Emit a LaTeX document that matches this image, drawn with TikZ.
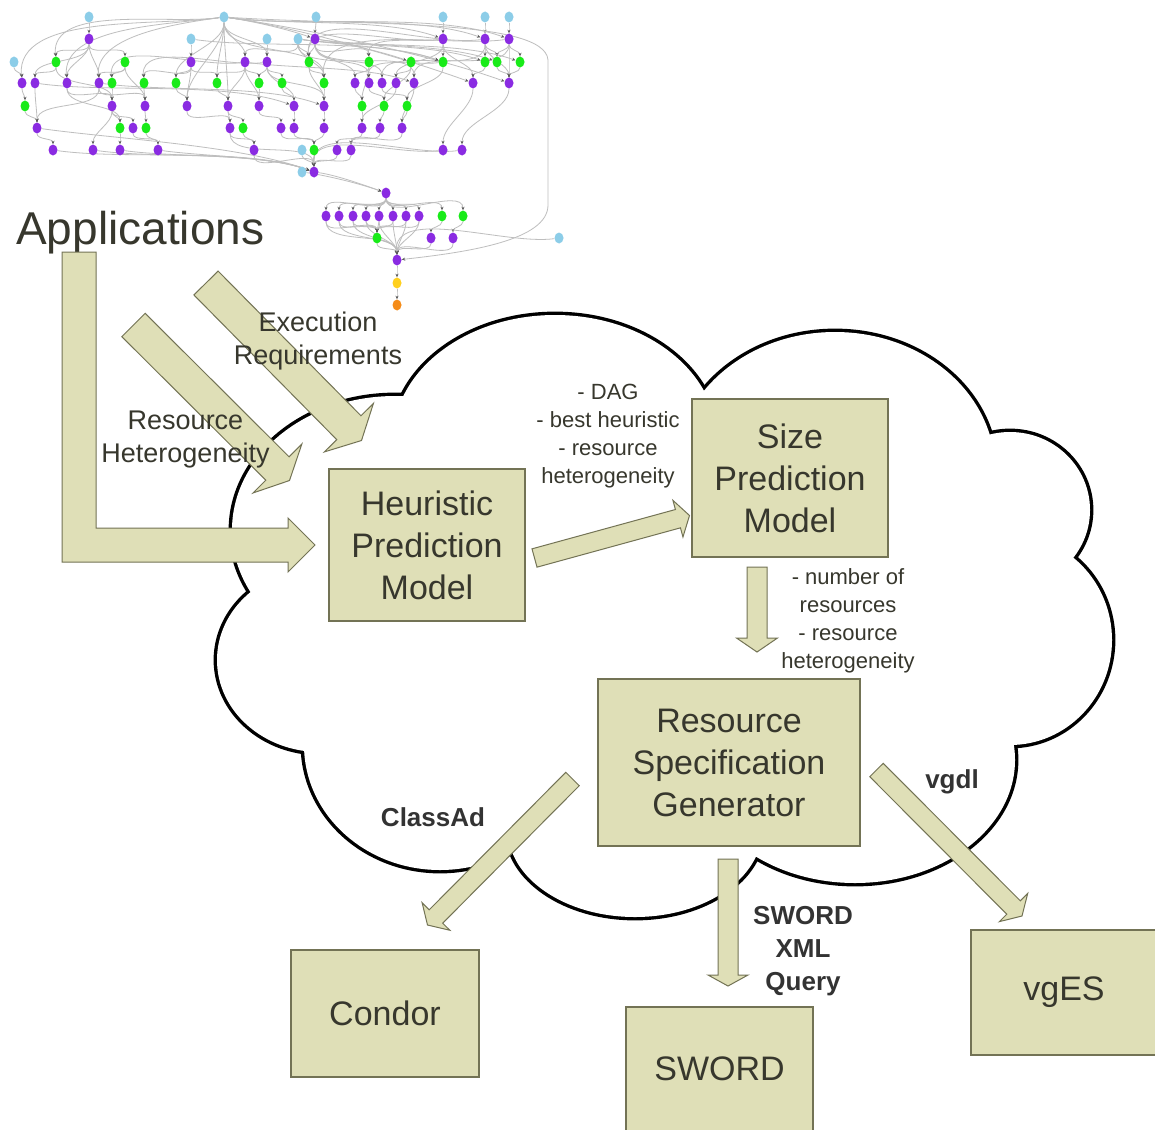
\documentclass[tikz,border=0pt]{standalone}
\usepackage{fontspec}
\setmainfont{Liberation Sans}
\usetikzlibrary{calc,shapes.geometric,arrows.meta}

\pgfdeclarelayer{paper}
\pgfdeclarelayer{dagwires}
\pgfsetlayers{paper,dagwires,main}

\definecolor{boxfill}{RGB}{223,223,183}
\definecolor{boxline}{RGB}{115,115,85}
\definecolor{inktext}{RGB}{55,55,45}
\definecolor{dagp}{RGB}{138,43,226}
\definecolor{dagg}{RGB}{25,235,25}
\definecolor{dagb}{RGB}{140,205,232}
\definecolor{dagy}{RGB}{255,208,30}
\definecolor{dago}{RGB}{245,140,25}
\definecolor{dagwirec}{RGB}{190,190,190}
\definecolor{dagtip}{RGB}{90,90,90}

% block arrow: tail centre, tip, half shaft width, half head width, head length
\newcommand{\blockarrow}[5]{%
  \coordinate (ba-base) at ($(#2)!#5!(#1)$);
  \filldraw[blockarr] ($(#1)!#3!90:(#2)$) -- ($(ba-base)!#3!90:(#2)$)
    -- ($(ba-base)!#4!90:(#2)$) -- (#2) -- ($(ba-base)!#4!-90:(#2)$)
    -- ($(ba-base)!#3!-90:(#2)$) -- ($(#1)!#3!-90:(#2)$) -- cycle;
}

\begin{document}
\begin{tikzpicture}[x=1pt,y=-1pt,
  dag/.style={ellipse, inner sep=0pt, minimum width=9pt, minimum height=11pt},
  dagwire/.style={draw=dagwirec, line width=0.8pt, -{Stealth[length=3.5pt,width=3pt,color=dagtip]}},
  cloudrim/.style={draw=black, line width=6.8pt},
  blockarr/.style={fill=boxfill, draw=boxline, line width=1pt, line join=miter},
  modelbox/.style={draw=boxline, line width=1.2pt, fill=boxfill, text=inktext, align=center,
                   inner sep=0pt, font=\fontsize{34}{42}\selectfont},
  smalllbl/.style={text=inktext, align=center, inner sep=0pt, font=\fontsize{22}{28}\selectfont},
  midlbl/.style={text=inktext, align=center, inner sep=0pt, font=\fontsize{27}{33}\selectfont},
  boldlbl/.style={text=black!80, align=center, inner sep=0pt, font=\fontsize{26}{33}\selectfont\bfseries}]

\begin{pgfonlayer}{paper}
  \fill[white] (0,0) rectangle (1155,1129);
\end{pgfonlayer}
\useasboundingbox (0,0) rectangle (1155,1129);
\clip (0,0) rectangle (1155,1129);

% ---------------- application DAG ----------------
\foreach \x/\y/\c [count=\i] in {
 89/17/b, 224/17/b, 316/17/b, 443/17/b, 485/17/b, 509/17/b,
 89/39/p, 191/39/b, 267/39/b, 298/39/b, 315/39/p, 443/39/p, 485/39/p, 509/39/p,
 14/62/b, 56/62/g, 125/62/g, 191/62/p, 245/62/p, 267/62/p, 309/62/g, 369/62/g, 411/62/g, 443/62/g, 485/62/g, 497/62/g, 520/62/g,
 22/83/p, 35/83/p, 67/83/p, 99/83/p, 112/83/g, 144/83/g, 176/83/g, 217/83/g, 259/83/g, 282/83/g, 324/83/g, 355/83/p, 369/83/p, 382/83/p, 396/83/p, 414/83/p, 473/83/p, 509/83/p,
 25/106/g, 112/106/p, 145/106/p, 187/106/p, 228/106/p, 259/106/p, 294/106/p, 324/106/p, 362/106/g, 384/106/g, 407/106/g,
 37/128/p, 120/128/g, 133/128/p, 146/128/g, 230/128/p, 243/128/g, 281/128/p, 294/128/p, 324/128/p, 362/128/p, 380/128/p, 402/128/p,
 53/150/p, 93/150/p, 120/150/p, 158/150/p, 254/150/p, 302/150/b, 314/150/g, 337/150/p, 351/150/p, 443/150/p, 462/150/p,
 302/172/b, 314/172/p,
 386/193/p,
 326/216/p, 339/216/p, 353/216/p, 366/216/p, 379/216/p, 393/216/p, 406/216/p, 419/216/p, 442/216/g, 463/216/g,
 377/238/g, 431/238/p, 453/238/p, 559/238/b,
 397/260/p, 397/283/y, 397/305/o}
  \node[dag, fill=dag\c] (d\i) at (\x,\y) {};

\begin{pgfonlayer}{dagwires}
  % mostly downward edges
  \foreach \a/\b in {1/7, 2/19, 2/20, 2/34, 2/35, 2/49, 2/50, 2/38,
    3/11, 4/12, 5/13, 6/14, 7/16, 7/17, 7/29, 7/30, 7/31,
    8/18, 9/20, 10/19, 10/21, 10/38, 10/40,
    11/21, 11/22, 11/39, 11/41, 11/43, 12/24, 12/42, 12/44,
    13/25, 13/26, 13/41, 13/45, 14/26, 14/27, 14/43, 14/45,
    15/28, 16/29, 16/47, 17/31, 17/32, 17/48,
    18/33, 18/34, 18/35, 18/49, 19/35, 19/36, 19/50, 19/51,
    20/36, 20/37, 20/52, 20/53, 21/38, 21/53, 22/39, 22/54, 23/42, 23/55,
    24/56, 25/44, 26/45, 27/45,
    28/46, 29/57, 30/47, 30/58, 31/48, 31/57, 32/47, 33/48, 34/49, 35/50, 36/51, 37/52, 38/53,
    39/54, 40/55, 41/56, 42/66, 43/68, 44/78, 45/79, 46/57,
    47/58, 47/59, 47/70, 48/60, 49/61, 50/61, 50/62, 51/63, 52/64, 53/65, 54/66, 55/67, 56/68,
    57/69, 58/71, 59/72, 60/72, 61/73, 62/73, 63/75, 64/75, 65/75, 66/76, 67/77, 68/77,
    61/81, 73/81, 74/81, 75/81, 76/81, 77/81,
    82/83, 82/84, 82/85, 82/86, 82/87, 82/88, 82/89, 82/90, 82/91, 82/92,
    83/93, 84/93, 85/93, 86/93, 87/93, 88/93, 89/93, 90/93, 91/94, 92/95,
    83/97, 84/97, 85/97, 86/97, 87/97, 88/97, 89/97, 90/97, 93/97, 94/97, 95/97,
    97/98, 98/99}
    \draw[dagwire] (d\a) to[out=-90,in=90,looseness=0.8] (d\b);
  % long edges running to the right
  \foreach \a/\b in {2/11, 2/12, 2/13, 2/14, 2/44, 2/45, 8/24, 10/24, 10/25, 10/27,
    11/23, 11/26, 19/43, 29/52, 31/53,
    57/81, 69/81, 70/81, 71/81, 72/81, 80/82, 81/82}
    \draw[dagwire] (d\a) to[out=-8,in=160,looseness=0.7] (d\b);
  % long edges sweeping to the left
  \foreach \a/\b in {2/16, 2/28, 2/30, 2/31, 12/21, 12/22, 13/21, 14/38,
    19/32, 20/33, 24/40, 78/81, 79/81, 96/97}
    \draw[dagwire] (d\a) to[out=188,in=95,looseness=0.8] (d\b);
  % the edge that runs round the right-hand side
  \draw[dagwire] (d2) .. controls (360,26) and (545,18) .. (548,60) -- (548,205)
    .. controls (548,240) and (470,252) .. (d97);
\end{pgfonlayer}

\node[anchor=base west, inner sep=0pt, text=inktext, font=\fontsize{46}{52}\selectfont]
  (apptitle) at (16,244) {Applications};

% ---------------- cloud: union of elliptic lobes ----------------
% each lobe is stroked with a double-width rim, then every lobe and the
% central polygon are filled white, leaving only the outer half of the rim
\def\cloudlobes{395/530/163/134, 555/440/162/125, 835/470/160/138,
  1010/510/80/78, 1010/640/102/105, 855/760/160/123, 635/830/127/87,
  440/745/136/125, 320/660/103/92}
\foreach \cx/\cy/\rx/\ry in \cloudlobes
  \draw[cloudrim] (\cx,\cy) ellipse [x radius=\rx pt, y radius=\ry pt];
\foreach \cx/\cy/\rx/\ry in \cloudlobes
  \fill[white] (\cx,\cy) ellipse [x radius=\rx pt, y radius=\ry pt];
\fill[white] (395,530) -- (555,440) -- (835,470) -- (1010,510) -- (1010,640)
  -- (855,760) -- (635,830) -- (440,745) -- (320,660) -- cycle;

% ---------------- boxes ----------------
\node[modelbox, minimum width=196pt, minimum height=152pt] (hpm) at (427,545) {Heuristic\\Prediction\\Model};
\node[modelbox, minimum width=196pt, minimum height=158pt] (spm) at (790,478) {Size\\Prediction\\Model};
\node[modelbox, minimum width=262pt, minimum height=167pt] (rsg) at (729,762.5) {Resource\\Specification\\Generator};
\node[modelbox, minimum width=188pt, minimum height=127pt] (condor) at (385,1013.5) {Condor};
\node[modelbox, minimum width=187pt, minimum height=124pt] (sword) at (719.5,1069) {SWORD};
\node[modelbox, minimum width=186pt, minimum height=125pt] (vges) at (1064,992.5) {vgES};

% ---------------- block arrows ----------------
\coordinate (la-start) at (79,252);
\coordinate (la-end) at (hpm.west -| 315,553);
\filldraw[blockarr] ($(la-start)+(-17,0)$) -- ($(la-start)+(17,0)$) |- ($(la-end)+(-27,-17)$)
  -- ($(la-end)+(-27,-27)$) -- (la-end) -- ($(la-end)+(-27,27)$) -- ($(la-end)+(-27,17)$)
  -- ($(la-start |- la-end)+(-17,17)$) -- cycle;

\coordinate (rh-tail) at (133.5,325);   \coordinate (rh-tip) at (289.5,480.5);
\coordinate (er-tail) at (206,283);     \coordinate (er-tip) at (361.5,440.5);
\coordinate (hs-tail) at (534.5,558);   \coordinate (hs-tip) at (689.5,515.5);
\coordinate (sr-tail) at (757,567);     \coordinate (sr-tip) at (757,652);
\coordinate (rc-tail) at (572.5,779);   \coordinate (rc-tip) at (427.5,925);
\coordinate (rs-tail) at (728,859);     \coordinate (rs-tip) at (728,986);
\coordinate (rv-tail) at (876.5,770);   \coordinate (rv-tip) at (1022,916);

\blockarrow{rh-tail}{rh-tip}{16.5pt}{34.5pt}{17pt}
\blockarrow{er-tail}{er-tip}{17pt}{34.5pt}{18pt}
\blockarrow{hs-tail}{hs-tip}{9.5pt}{19pt}{12pt}
\blockarrow{sr-tail}{sr-tip}{10pt}{20.5pt}{14pt}
\blockarrow{rc-tail}{rc-tip}{9.5pt}{19.5pt}{12pt}
\blockarrow{rs-tail}{rs-tip}{10pt}{20pt}{11pt}
\blockarrow{rv-tail}{rv-tip}{9.5pt}{20pt}{12pt}

% ---------------- labels ----------------
\node[midlbl] (execreq) at (318,341) {Execution\\Requirements};
\node[midlbl] (reshet) at (185.5,440) {Resource\\Heterogeneity};
\node[smalllbl] (hpmout) at (608,436) {- DAG\\- best heuristic\\- resource\\heterogeneity};
\node[smalllbl] (spmout) at (848,621) {- number of\\resources\\- resource\\heterogeneity};
\node[boldlbl] (classad) at (433,817) {ClassAd};
\node[boldlbl] (swordq) at (803,951) {SWORD\\XML\\Query};
\node[boldlbl] (vgdl) at (952,782) {vgdl};

\end{tikzpicture}
\end{document}
